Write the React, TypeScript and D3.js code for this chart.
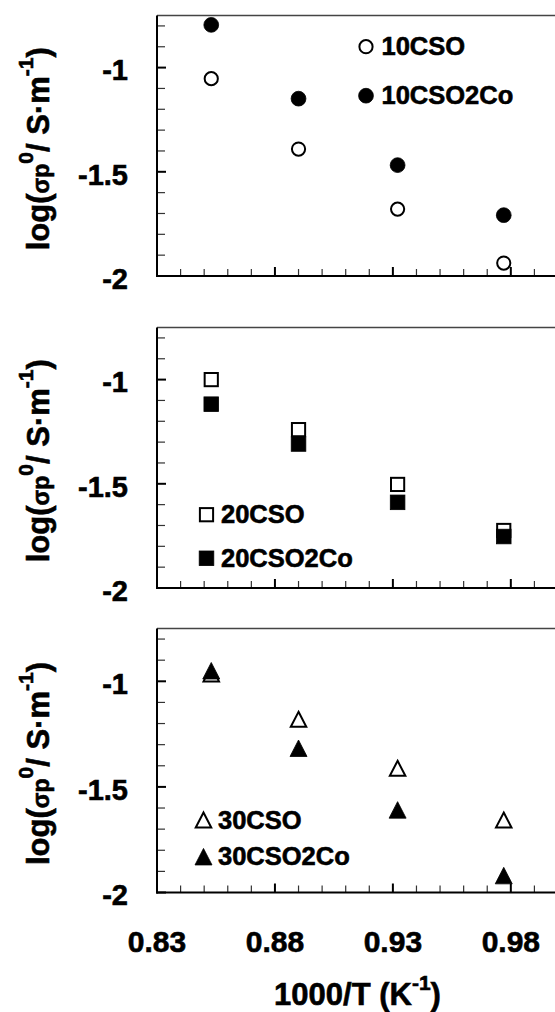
import React from "react";
import * as d3 from "d3";

// 1000/T values (K^-1)
const invT = [0.853, 0.89, 0.932, 0.977];

// log(sigma_p0) series
const cso10 = [-1.053, -1.391, -1.679, -1.938];
const cso10Co = [-0.795, -1.149, -1.468, -1.708];
const cso20 = [-1.0, -1.24, -1.503, -1.724];
const cso20Co = [-1.118, -1.309, -1.589, -1.753];
const cso30 = [-0.965, -1.18, -1.412, -1.657];
const cso30Co = [-0.95, -1.317, -1.609, -1.92];

const xMajorTicks = [0.83, 0.88, 0.93, 0.98];
const xTickLabels = ["0.83", "0.88", "0.93", "0.98"];
const yMajorTicks = [-1, -1.5, -2];
const yTickLabels = ["-1", "-1.5", "-2"];

const xDomain = [0.83, 1.0];
const yDomain = [-2, -0.75];

const FONT = "'Liberation Sans', Arial, Helvetica, sans-serif";

type Shape = "circle" | "square" | "triangle";

function Marker({ shape, filled, x, y }: { shape: Shape; filled: boolean; x: number; y: number }) {
  const fill = filled ? "#000" : "#fff";
  const sw = filled ? 0.8 : 2;
  if (shape === "circle") {
    return <circle cx={x} cy={y} r={filled ? 7.4 : 6.6} fill={fill} stroke="#000" strokeWidth={sw} />;
  }
  if (shape === "square") {
    const s = filled ? 14.6 : 13.2;
    return <rect x={x - s / 2} y={y - s / 2} width={s} height={s} fill={fill} stroke="#000" strokeWidth={sw} />;
  }
  const p = d3.path();
  const h = filled ? 16.5 : 15;
  const w = filled ? 17 : 15.5;
  p.moveTo(x, y - h / 2);
  p.lineTo(x + w / 2, y + h / 2);
  p.lineTo(x - w / 2, y + h / 2);
  p.closePath();
  return <path d={p.toString()} fill={fill} stroke="#000" strokeWidth={sw} strokeLinejoin="miter" />;
}

const panels = [
  {
    top: 15.5,
    bottom: 276,
    shape: "circle" as Shape,
    series: [
      { name: "10CSO", values: cso10, filled: false },
      { name: "10CSO2Co", values: cso10Co, filled: true },
    ],
    legend: { x: 366, ys: [46.7, 95.7], textDx: 15.5 },
  },
  {
    top: 327.5,
    bottom: 588,
    shape: "square" as Shape,
    series: [
      { name: "20CSO", values: cso20, filled: false },
      { name: "20CSO2Co", values: cso20Co, filled: true },
    ],
    legend: { x: 206.5, ys: [514.7, 558.3], textDx: 14.5 },
  },
  {
    top: 628.5,
    bottom: 892.5,
    shape: "triangle" as Shape,
    series: [
      { name: "30CSO", values: cso30, filled: false },
      { name: "30CSO2Co", values: cso30Co, filled: true },
    ],
    legend: { x: 203.5, ys: [820, 856.7], textDx: 14.5 },
  },
];

const X0 = 157;
const X1 = 558;
const TS = 0.6; // text stroke to mimic heavy raster weight

export default function App() {
  const x = d3.scaleLinear().domain(xDomain).range([X0, X1]);
  const xMinor = d3.range(0.84, 1.0, 0.01).map((v) => +v.toFixed(2)).filter((v) => !xMajorTicks.some((m) => Math.abs(m - v) < 1e-6));
  const yMinor = d3.range(-1.9, -0.75, 0.1).map((v) => +v.toFixed(2)).filter((v) => !yMajorTicks.some((m) => Math.abs(m - v) < 1e-6));

  return (
    <div style={{ position: "absolute", left: 0, top: 0 }}>
      <svg width={555} height={1012} style={{ display: "block", background: "#fff" }} fontFamily={FONT} fontWeight="bold">
        {panels.map((pn, pi) => {
          const y = d3.scaleLinear().domain(yDomain).range([pn.bottom, pn.top]);
          const isLast = pi === panels.length - 1;
          const cy = (pn.top + pn.bottom) / 2 + 3;
          return (
            <g key={pi}>
              <line x1={X0} x2={X1} y1={pn.top} y2={pn.top} stroke="#444" strokeWidth={1.4} />
              <line x1={X1} x2={X1} y1={pn.top} y2={pn.bottom} stroke="#444" strokeWidth={1.4} />
              {yMinor.map((v) => (
                <line key={"ym" + v} x1={X0} x2={X0 + 8} y1={y(v)} y2={y(v)} stroke="#333" strokeWidth={1.2} />
              ))}
              {yMajorTicks.map((v) => (
                <line key={"yM" + v} x1={X0} x2={X0 + 9} y1={y(v)} y2={y(v)} stroke="#000" strokeWidth={2} />
              ))}
              {xMinor.map((v) => (
                <line key={"xm" + v} x1={x(v)} x2={x(v)} y1={pn.bottom} y2={pn.bottom - 7} stroke="#333" strokeWidth={1.2} />
              ))}
              {xMajorTicks.map((v) => (
                <line key={"xM" + v} x1={x(v)} x2={x(v)} y1={pn.bottom} y2={pn.bottom - 9} stroke="#000" strokeWidth={2} />
              ))}
              <line x1={X0} x2={X0} y1={pn.top} y2={pn.bottom + 1} stroke="#000" strokeWidth={2} />
              <line x1={X0 - 1} x2={X1} y1={pn.bottom} y2={pn.bottom} stroke="#000" strokeWidth={2} />
              {yMajorTicks.map((v, i) => (
                <text key={"yl" + v} x={128} y={y(v) + 12.7} textAnchor="end" fontSize={29} stroke="#000" strokeWidth={TS}>
                  {yTickLabels[i]}
                </text>
              ))}
              <text transform={`translate(49,${cy}) rotate(-90)`} textAnchor="middle" fontSize={31} stroke="#000" strokeWidth={TS}>
                <tspan>log(</tspan>
                <tspan fontSize={23}>σp</tspan>
                <tspan fontSize={21} dy={-16}>0</tspan>
                <tspan fontSize={31} dy={16}>/ S·m</tspan>
                <tspan fontSize={21} dy={-16}>-1</tspan>
                <tspan fontSize={31} dy={16}>)</tspan>
              </text>
              {pn.series.map((s, si) =>
                s.values.map((v, k) => (
                  <Marker key={`d${si}-${k}`} shape={pn.shape} filled={s.filled} x={x(invT[k])} y={y(v)} />
                ))
              )}
              {pn.series.map((s, si) => (
                <g key={"lg" + si}>
                  <Marker shape={pn.shape} filled={s.filled} x={pn.legend.x} y={pn.legend.ys[si]} />
                  <text x={pn.legend.x + pn.legend.textDx} y={pn.legend.ys[si] + 8.5} fontSize={25.5} stroke="#000" strokeWidth={TS}>
                    {s.name}
                  </text>
                </g>
              ))}
              {isLast &&
                xMajorTicks.map((v, i) => (
                  <text key={"xl" + v} x={x(v)} y={951.7} textAnchor="middle" fontSize={30} stroke="#000" strokeWidth={TS}>
                    {xTickLabels[i]}
                  </text>
                ))}
            </g>
          );
        })}
        <text x={(X0 + X1) / 2} y={1005} textAnchor="middle" fontSize={31} stroke="#000" strokeWidth={TS}>
          <tspan>1000/T (K</tspan>
          <tspan fontSize={21} dy={-15}>-1</tspan>
          <tspan fontSize={31} dy={15}>)</tspan>
        </text>
      </svg>
    </div>
  );
}
